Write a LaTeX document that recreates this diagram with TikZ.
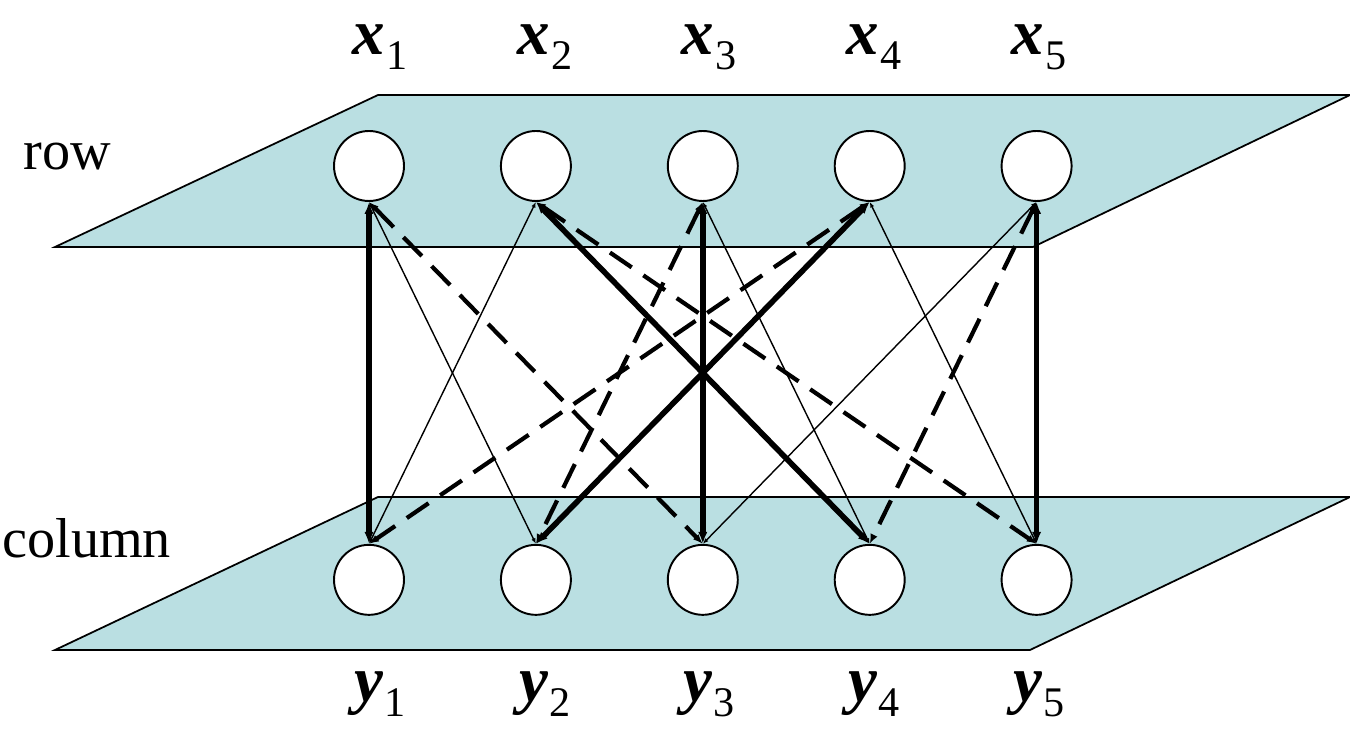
\documentclass[tikz,border=0pt]{standalone}
\usepackage{fontspec}
\setmainfont{Liberation Serif}
\usetikzlibrary{positioning, arrows.meta}
\definecolor{planecyan}{RGB}{186,223,226}
\newcommand{\vecvar}[2]{{\rmfamily\bfseries\itshape #1}\kern1pt\raisebox{-8.5pt}{\rmfamily\fontsize{24}{24}\selectfont #2}}
\tikzset{
    plane/.style={
        fill=planecyan, draw=black, line width=1pt
    },
    unit/.style={
        circle, draw=black, fill=white, line width=1.1pt,
        minimum size=1.4cm, inner sep=0pt
    },
    varlabel/.style={
        anchor=base, inner sep=0pt, font=\rmfamily\fontsize{37}{40}\selectfont
    },
    layerlabel/.style={
        anchor=base west, inner sep=0pt, font=\rmfamily\fontsize{32}{36}\selectfont
    },
    link/.style={
        {Latex[length=2pt 1.5,width=1.5pt 1.2]}-{Latex[length=2pt 1.5,width=1.5pt 1.2]}
    },
    weak/.style={link, line width=0.8pt},
    strong/.style={link, line width=3.2pt},
    loose/.style={link, line width=2.4pt, dash pattern=on 15pt off 8pt}
}

\begin{document}
\begin{tikzpicture}[
    x=0.02cm, y=-0.02cm,
    node distance=6.84cm and 1.9cm
]
\useasboundingbox (0,0) rectangle (1350,732);

% planes
\draw[plane] (55,247) -- (378,95) -- (1350,95) -- (1033,247) -- cycle;
\draw[plane] (55,650) -- (378,497) -- (1350,497) -- (1030,650) -- cycle;

\node[layerlabel] (row) at (23,170) {row};
\node[layerlabel] (column) at (2,558) {column};

% units
\node[unit] (x1) at (369,166) {};
\node[unit, right=of x1] (x2) {};
\node[unit, right=of x2] (x3) {};
\node[unit, right=of x3] (x4) {};
\node[unit, right=of x4] (x5) {};

\node[unit, below=of x1] (y1) {};
\node[unit, below=of x2] (y2) {};
\node[unit, below=of x3] (y3) {};
\node[unit, below=of x4] (y4) {};
\node[unit, below=of x5] (y5) {};

% labels
\node[varlabel] (lx1) at (380,55) {\vecvar{x}{1}};
\node[varlabel] (lx2) at (545,55) {\vecvar{x}{2}};
\node[varlabel] (lx3) at (709,55) {\vecvar{x}{3}};
\node[varlabel] (lx4) at (874,55) {\vecvar{x}{4}};
\node[varlabel] (lx5) at (1039,55) {\vecvar{x}{5}};

\node[varlabel] (ly1) at (380,702) {\vecvar{y}{1}};
\node[varlabel] (ly2) at (545,702) {\vecvar{y}{2}};
\node[varlabel] (ly3) at (709,702) {\vecvar{y}{3}};
\node[varlabel] (ly4) at (874,702) {\vecvar{y}{4}};
\node[varlabel] (ly5) at (1039,702) {\vecvar{y}{5}};

% connections
\draw[weak] (x1.south) -- (y2.north);
\draw[weak] (x2.south) -- (y1.north);
\draw[weak] (x3.south) -- (y4.north);
\draw[weak] (x4.south) -- (y5.north);
\draw[weak] (x5.south) -- (y3.north);

\draw[loose] (x1.south) -- (y3.north);
\draw[loose] (x2.south) -- (y5.north);
\draw[loose] (x3.south) -- (y2.north);
\draw[loose] (x4.south) -- (y1.north);
\draw[loose] (x5.south) -- (y4.north);

\draw[strong] (x1.south) -- (y1.north);
\draw[strong] (x2.south) -- (y4.north);
\draw[strong] (x3.south) -- (y3.north);
\draw[strong] (x4.south) -- (y2.north);
\draw[strong] (x5.south) -- (y5.north);

\end{tikzpicture}
\end{document}
